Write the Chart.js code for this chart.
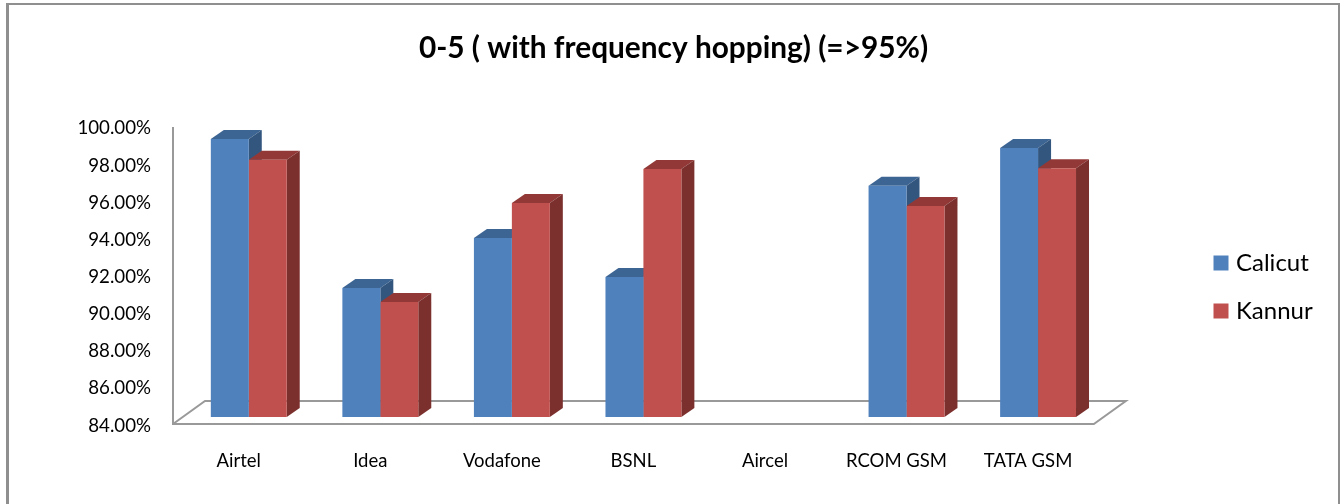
<!DOCTYPE html>
<html><head><meta charset="utf-8">
<style>html,body{margin:0;padding:0;background:#fff}#w{width:1340px;height:504px;position:relative}</style>
<script src="https://cdn.jsdelivr.net/npm/chart.js@4"></script></head>
<body><div id="w"><canvas id="c" width="1340" height="504"></canvas></div>
<script>
const categories = ['Airtel','Idea','Vodafone','BSNL','Aircel','RCOM GSM','TATA GSM'];
const calicut = [98.98,90.95,93.64,91.54,null,96.45,98.49];
const kannur  = [97.85,90.2,95.53,97.36,null,95.37,97.4];
const yTicks = {min:84,max:100,step:2};
const FONT = 'Lato, Carlito, sans-serif';
const OFF = {x:10,y:-7}, D = {x:13,y:-9}, FLOOR = {x:32,y:-23};
const shades = [{top:'#3D6593',side:'#33567F'},{top:'#923937',side:'#7B302E'}];

const frame = {
  id:'frame',
  beforeDraw(ch){
    const c=ch.ctx; c.save(); c.strokeStyle='#8f8f8f';
    c.lineWidth=3; c.beginPath(); c.moveTo(7.5,504); c.lineTo(7.5,4); c.stroke();
    c.lineWidth=2; c.beginPath(); c.moveTo(6,4); c.lineTo(1339,4); c.lineTo(1339,504); c.stroke();
    c.restore();
  }
};
const legendPlace = {
  id:'legendPlace',
  afterLayout(ch){
    const l=ch.legend; l.left=1194; l.right=l.left+l.width; l.top=227; l.bottom=l.top+l.height; l.adjustHitBoxes();
    const t=ch.titleBlock; t.left=0; t.right=1347;
  }
};
const bars3d = {
  id:'bars3d',
  beforeDatasetsDraw(ch){
    const c=ch.ctx, a=ch.chartArea;
    c.save(); c.strokeStyle='#999'; c.lineWidth=2; c.lineJoin='miter';
    c.beginPath(); c.moveTo(a.left,a.top); c.lineTo(a.left,a.bottom); c.lineTo(a.right,a.bottom);
    c.lineTo(a.right+FLOOR.x,a.bottom+FLOOR.y); c.lineTo(a.left+FLOOR.x,a.bottom+FLOOR.y); c.lineTo(a.left,a.bottom); c.stroke();
    c.restore();
    c.save(); c.translate(OFF.x,OFF.y);
    ch.data.datasets.forEach((ds,i)=>{
      ch.getDatasetMeta(i).data.forEach((el,k)=>{
        if(ds.data[k]==null) return;
        const p=el.getProps(['x','y','base','width'],true);
        const l=p.x-p.width/2, r=p.x+p.width/2;
        c.fillStyle=shades[i].top; c.beginPath();
        c.moveTo(l,p.y); c.lineTo(l+D.x,p.y+D.y); c.lineTo(r+D.x,p.y+D.y); c.lineTo(r,p.y); c.closePath(); c.fill();
        c.fillStyle=shades[i].side; c.beginPath();
        c.moveTo(r,p.y); c.lineTo(r+D.x,p.y+D.y); c.lineTo(r+D.x,p.base+D.y); c.lineTo(r,p.base); c.closePath(); c.fill();
      });
    });
  },
  afterDatasetsDraw(ch){ ch.ctx.restore(); }
};
new Chart(document.getElementById('c'),{
  type:'bar',
  data:{labels:categories,datasets:[
    {label:'Calicut',data:calicut,backgroundColor:'#4F81BD',clip:false,base:yTicks.min},
    {label:'Kannur',data:kannur,backgroundColor:'#C0504D',clip:false,base:yTicks.min}
  ]},
  plugins:[frame,legendPlace,bars3d],
  options:{
    responsive:false,animation:false,
    layout:{padding:{left:0,right:117.5,top:0,bottom:0}},
    datasets:{bar:{categoryPercentage:0.577,barPercentage:1}},
    plugins:{
      title:{display:true,text:'0-5 ( with frequency hopping) (=>95%)',color:'#000',
        font:{family:FONT,size:29.8,weight:'bold',lineHeight:1.2},padding:{top:31,bottom:60.2}},
      legend:{position:'right',align:'start',
        labels:{boxWidth:6,boxHeight:6,color:'#000',font:{family:FONT,size:24},padding:24,
          generateLabels(ch){return Chart.defaults.plugins.legend.labels.generateLabels(ch).map(it=>({...it,strokeStyle:it.fillStyle,lineWidth:9}));}}},
      tooltip:{enabled:false}
    },
    scales:{
      x:{grid:{display:false,drawTicks:false},border:{display:false},
        ticks:{color:'#000',font:{family:FONT,size:18.5},padding:26,maxRotation:0,autoSkip:false},
        afterFit(s){s.height=80;}},
      y:{min:yTicks.min,max:yTicks.max,grid:{display:false,drawTicks:false},border:{display:false},
        ticks:{stepSize:yTicks.step,color:'#000',font:{family:FONT,size:18.7},padding:22,labelOffset:1.5,callback:v=>v.toFixed(2)+'%'},
        afterFit(s){s.width=173;}}
    }
  }
});
</script></body></html>
